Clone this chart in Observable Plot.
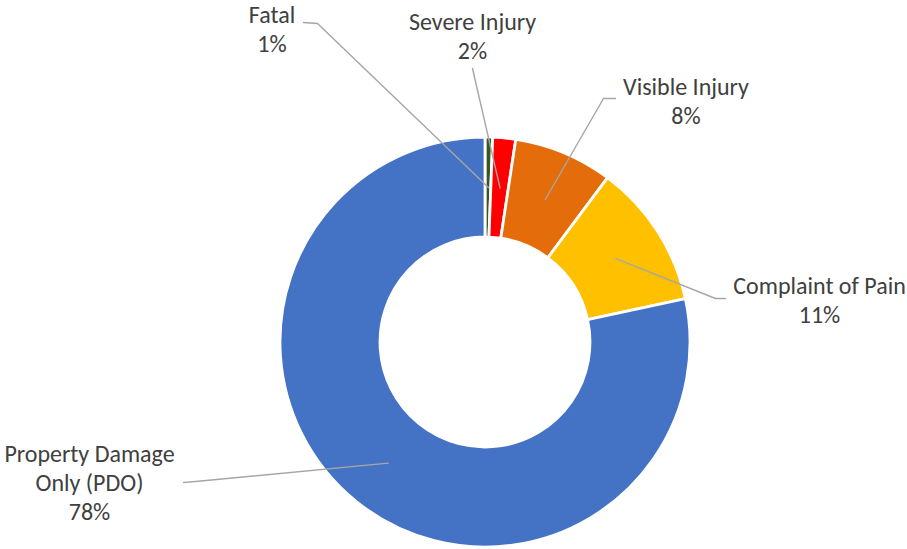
<!DOCTYPE html>
<html><head><meta charset="utf-8">
<script src="https://cdn.jsdelivr.net/npm/d3@7"></script>
<script src="https://cdn.jsdelivr.net/npm/@observablehq/plot@0.6"></script>
<style>body{margin:0;background:#fff}</style>
</head><body><div id="chart"></div>
<script>
// ---- data ----
const categories = ["Fatal", "Severe Injury", "Visible Injury", "Complaint of Pain", "Property Damage Only (PDO)"];
const shares = [0.6, 1.8, 7.8, 11.4, 78.4];
const colors = ["#375623", "#FF0000", "#E46C0A", "#FFC000", "#4472C4"];
const labelNames = ["Fatal", "Severe Injury", "Visible Injury", "Complaint of Pain", "Property Damage\nOnly (PDO)"];

// ---- layout (data units = px, origin at donut centre) ----
const W = 907, H = 549, CX = 485, CY = 342;
const outerR = 205, innerR = 105;
const labelPos = [[-213.5, 314.5], [-13, 307.2], [200.5, 242.2], [334, 43.7], [-396, -139.3]];
const leaderStarts = [
  [[-182, 320], [-168, 319]],
  [[-13, 274]],
  [[130, 244], [118, 244]],
  [[240, 44], [230, 44]],
  [[-302, -140], [-290, -139]]
];

const total = d3.sum(shares);
const pie = d3.pie().sort(null).value(d => d)(shares);
const slices = pie.map((a, i) => ({category: categories[i], start: a.startAngle, end: a.endAngle, color: colors[i]}));

const midR = (outerR + innerR) / 2;
const leaders = [];
slices.forEach((s, i) => {
  const m = (s.start + s.end) / 2;
  leaderStarts[i].forEach(p => leaders.push({k: categories[i], x: p[0], y: p[1]}));
  leaders.push({k: categories[i], x: midR * Math.sin(m), y: midR * Math.cos(m)});
});

const labels = categories.map((c, i) => ({
  x: labelPos[i][0], y: labelPos[i][1],
  text: labelNames[i] + "\n" + Math.round(shares[i] / total * 100) + "%"
}));

function donut(index, scales) {
  const {x, y} = scales;
  const X0 = x(0), Y0 = y(0);
  const ro = x(outerR) - X0, ri = x(innerR) - X0;
  const arc = d3.arc().innerRadius(ri).outerRadius(ro);
  const g = d3.create("svg:g").attr("transform", `translate(${X0},${Y0})`);
  g.selectAll("path").data(slices).join("path")
    .attr("d", d => arc({startAngle: d.start, endAngle: d.end}))
    .attr("fill", d => d.color)
    .attr("stroke", "white")
    .attr("stroke-width", 2.8)
    .attr("stroke-linejoin", "round");
  return g.node();
}

const chart = Plot.plot({
  width: W, height: H,
  margin: 0,
  x: {domain: [-CX, W - CX], axis: null},
  y: {domain: [-(H - CY), CY], axis: null},
  style: {background: "#fff"},
  marks: [
    donut,
    Plot.line(leaders, {x: "x", y: "y", z: "k", stroke: "#A6A6A6", strokeWidth: 1.4}),
    Plot.text(labels, {
      x: "x", y: "y", text: "text",
      fontSize: 24, lineHeight: 1.21,
      fill: "#404040",
      fontFamily: "Calibri, Carlito, Lato, sans-serif",
      textAnchor: "middle", lineAnchor: "middle"
    })
  ]
});
document.getElementById("chart").appendChild(chart);
</script>
</body></html>
